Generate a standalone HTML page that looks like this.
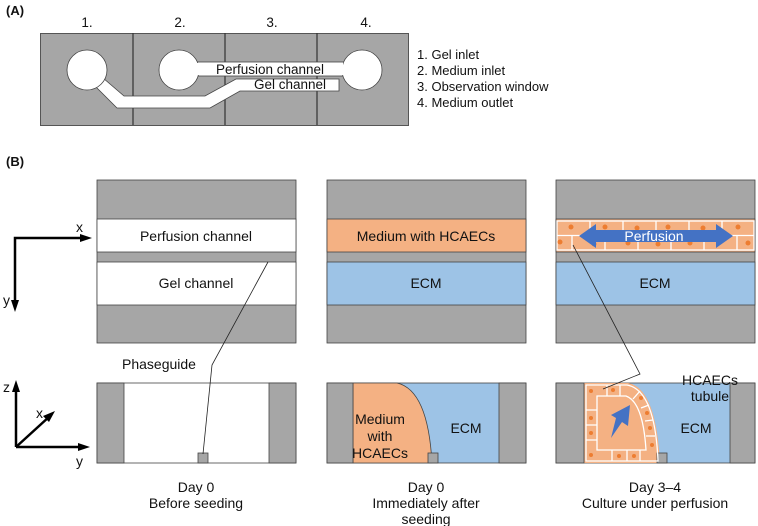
<!DOCTYPE html>
<html><head><meta charset="utf-8"><style>body{margin:0;background:#fff}svg{display:block}text{font-family:"Liberation Sans",Arial,sans-serif;fill:#111}</style></head><body>
<svg width="758" height="526" viewBox="0 0 758 526" xmlns="http://www.w3.org/2000/svg">
<text x="6" y="15" font-size="13" font-weight="bold">(A)</text>
<text x="6" y="166" font-size="13" font-weight="bold">(B)</text>
<g font-size="13.5" text-anchor="middle"><text x="87" y="27">1.</text><text x="180" y="27">2.</text><text x="272" y="27">3.</text><text x="366" y="27">4.</text></g>
<rect x="40.5" y="33.5" width="368" height="92" fill="#a6a6a6" stroke="#555"/>
<g stroke="#333" stroke-width="1.2"><line x1="133" y1="33" x2="133" y2="125"/><line x1="225" y1="33" x2="225" y2="125"/><line x1="317" y1="33" x2="317" y2="125"/></g>
<g fill="#fff" stroke="#444" stroke-width="0.8">
<path d="M103,78 L124,96 L205,96 L236,79 L339,79 L339,91 L240,91 L210,108 L117,108 L95,86 Z"/>
<rect x="192" y="62" width="155" height="14"/>
<circle cx="87" cy="70" r="20"/><circle cx="179" cy="70" r="20"/><circle cx="362" cy="70" r="20"/>
</g>
<g fill="#fff"><rect x="196" y="63" width="147" height="12"/><circle cx="179" cy="70" r="19.5"/><circle cx="362" cy="70" r="19.5"/><rect x="237" y="80" width="101" height="10"/></g>
<text x="270" y="74" font-size="13.5" text-anchor="middle">Perfusion channel</text>
<text x="290" y="89" font-size="13.5" text-anchor="middle">Gel channel</text>
<g font-size="13"><text x="417" y="59">1. Gel inlet</text><text x="417" y="75">2. Medium inlet</text><text x="417" y="91">3. Observation window</text><text x="417" y="107">4. Medium outlet</text></g>
<g stroke="#000" stroke-width="2.5" fill="none">
<polyline points="88,238 15,238 15,306" />
<line x1="16" y1="447" x2="16" y2="388"/><line x1="16" y1="447" x2="84" y2="447"/><line x1="16" y1="447" x2="50" y2="416"/>
</g>
<g fill="#000"><path d="M92,238 L80,234 L80,242Z"/><path d="M15,312 L11,300 L19,300Z"/><path d="M16,380 L12,392 L20,392Z"/><path d="M90,447 L78,443 L78,451Z"/><path d="M55,411 L43,416 L49,422Z"/></g>
<g font-size="14"><text x="76" y="232">x</text><text x="3" y="305">y</text><text x="3" y="392">z</text><text x="36" y="418">x</text><text x="76" y="466">y</text></g>
<g stroke="#444" stroke-width="0.8">
<rect x="97" y="180" width="199" height="163" fill="#a6a6a6"/>
<rect x="97" y="219" width="199" height="33" fill="#fff"/>
<rect x="97" y="262" width="199" height="43" fill="#fff"/>
<rect x="327" y="180" width="199" height="163" fill="#a6a6a6"/>
<rect x="327" y="219" width="199" height="33" fill="#f4b183"/>
<rect x="327" y="262" width="199" height="43" fill="#9dc3e6"/>
<rect x="556" y="180" width="199" height="163" fill="#a6a6a6"/>
<rect x="556" y="219" width="199" height="33" fill="#f4b183"/>
<rect x="556" y="262" width="199" height="43" fill="#9dc3e6"/>
</g>
<g stroke="#fff" stroke-width="1.3" fill="none">
<rect x="557" y="221" width="197" height="29"/><line x1="557" y1="235.5" x2="754" y2="235.5"/>
<path d="M590,221v14M623,221v14M656,221v14M689,221v14M722,221v14M572,236v14M605,236v14M638,236v14M671,236v14M704,236v14M737,236v14"/>
</g>
<g fill="#ed7d31"><circle cx="571" cy="227" r="2.5"/><circle cx="605" cy="227" r="2.5"/><circle cx="637" cy="228" r="2.5"/><circle cx="668" cy="227" r="2.5"/><circle cx="703" cy="228" r="2.5"/><circle cx="738" cy="227" r="2.5"/><circle cx="560" cy="242" r="2.5"/><circle cx="594" cy="244" r="2.5"/><circle cx="628" cy="243" r="2.5"/><circle cx="658" cy="244" r="2.5"/><circle cx="690" cy="243" r="2.5"/><circle cx="748" cy="243" r="2.5"/></g>
<path d="M579,236 L596,224 L596,230 L716,230 L716,224 L733,236 L716,248 L716,242 L596,242 L596,248 Z" fill="#4472c4"/>
<text x="654" y="241" font-size="14" text-anchor="middle" style="fill:#fff">Perfusion</text>
<g font-size="14" text-anchor="middle">
<text x="196" y="241">Perfusion channel</text><text x="196" y="288">Gel channel</text>
<text x="426" y="241">Medium with HCAECs</text><text x="426" y="288">ECM</text>
<text x="655" y="288">ECM</text>
</g>
<g stroke="#444" stroke-width="0.8">
<rect x="97" y="383" width="199" height="80" fill="#fff"/>
<rect x="97" y="383" width="27" height="80" fill="#a6a6a6"/><rect x="269" y="383" width="27" height="80" fill="#a6a6a6"/>
<rect x="198" y="453" width="10" height="10" fill="#a6a6a6"/>
<rect x="327" y="383" width="199" height="80" fill="#9dc3e6"/>
<path d="M353,383 L397,383 Q428,390 432,463 L353,463 Z" fill="#f4b183"/>
<rect x="327" y="383" width="26" height="80" fill="#a6a6a6"/><rect x="499" y="383" width="27" height="80" fill="#a6a6a6"/>
<rect x="428" y="453" width="10" height="10" fill="#a6a6a6"/>
<rect x="556" y="383" width="199" height="80" fill="#9dc3e6"/>
<path d="M584,383 L628,383 Q656,388 660,463 L584,463 Z" fill="#f4b183" stroke="none"/>
<rect x="556" y="383" width="28" height="80" fill="#a6a6a6"/><rect x="730" y="383" width="25" height="80" fill="#a6a6a6"/>
<rect x="657" y="453" width="10" height="10" fill="#a6a6a6"/>
</g>
<g stroke="#fff" stroke-width="1.3" fill="none">
<path d="M586,385 L627,385 Q655,390 658,461 L586,461 Z"/>
<path d="M597,396 L626,396 Q643,402 646,450 L597,450 Z"/>
<path d="M586,410h11M586,425h11M586,440h11M607,385v11M620,385v11M612,450v11M627,450v11M640,450v11M640,391l-7,8M649,405l-8,3M653,420l-8,1M655,436h-9"/>
</g>
<g fill="#ed7d31"><circle cx="591" cy="391" r="2"/><circle cx="613" cy="390" r="2"/><circle cx="591" cy="418" r="2"/><circle cx="591" cy="433" r="2"/><circle cx="591" cy="455" r="2"/><circle cx="619" cy="456" r="2"/><circle cx="634" cy="456" r="2"/><circle cx="647" cy="413" r="2"/><circle cx="650" cy="428" r="2"/><circle cx="652" cy="445" r="2"/><circle cx="641" cy="398" r="2"/></g>
<path d="M611,438 L616,418 L611,415 L630,405 L628,426 L622,422 Z" fill="#4472c4"/>
<g font-size="14" text-anchor="middle">
<text x="380" y="424">Medium</text><text x="380" y="441">with</text><text x="380" y="458">HCAECs</text>
<text x="466" y="433">ECM</text><text x="696" y="433">ECM</text>
<text x="159" y="369">Phaseguide</text>
<text x="710" y="385">HCAECs</text><text x="710" y="401">tubule</text>
<text x="196" y="492">Day 0</text><text x="196" y="508">Before seeding</text>
<text x="426" y="492">Day 0</text><text x="426" y="508">Immediately after</text><text x="426" y="524">seeding</text>
<text x="655" y="492">Day 3–4</text><text x="655" y="508">Culture under perfusion</text>
</g>
<g stroke="#222" stroke-width="0.8" fill="none">
<polyline points="268,262 212,365 203,454"/>
<polyline points="573,245 640,374 603,389"/>
</g>
</svg>
</body></html>
